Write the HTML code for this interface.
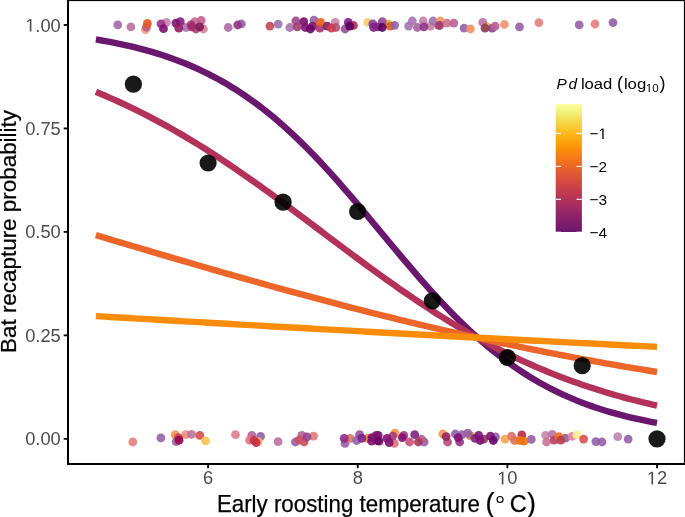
<!DOCTYPE html>
<html><head><meta charset="utf-8"><style>
html,body{margin:0;padding:0;background:#fff;}
body{width:685px;height:517px;overflow:hidden;}
svg{display:block;font-family:"Liberation Sans",sans-serif;will-change:transform;}
</style></head><body>
<svg width="685" height="517" viewBox="0 0 685 517">
<rect x="0" y="0" width="685" height="517" fill="#fff"/>
<circle cx="117.8" cy="24.9" r="4.4" fill="#9e6ba5" fill-opacity="0.90"/>
<circle cx="130.9" cy="26.8" r="4.4" fill="#b672a4" fill-opacity="0.90"/>
<circle cx="145.5" cy="29.7" r="4.4" fill="#ed9b83" fill-opacity="0.90"/>
<circle cx="146.4" cy="27.2" r="4.4" fill="#bd5c7b" fill-opacity="0.90"/>
<circle cx="147.4" cy="23.4" r="4.4" fill="#e55624" fill-opacity="0.90"/>
<circle cx="166.4" cy="22.4" r="4.4" fill="#c684b0" fill-opacity="0.90"/>
<circle cx="161.0" cy="23.9" r="4.4" fill="#953684" fill-opacity="0.90"/>
<circle cx="163.5" cy="28.7" r="4.4" fill="#811270" fill-opacity="0.90"/>
<circle cx="186.1" cy="27.5" r="4.4" fill="#a772b0" fill-opacity="0.90"/>
<circle cx="180.3" cy="21.7" r="4.4" fill="#87217d" fill-opacity="0.90"/>
<circle cx="175.9" cy="23.1" r="4.4" fill="#7d1572" fill-opacity="0.90"/>
<circle cx="178.8" cy="28.2" r="4.4" fill="#95195e" fill-opacity="0.90"/>
<circle cx="194.9" cy="21.7" r="4.4" fill="#c26b95" fill-opacity="0.90"/>
<circle cx="201.2" cy="20.5" r="4.4" fill="#c2608f" fill-opacity="0.90"/>
<circle cx="203.4" cy="29.0" r="4.4" fill="#d48495" fill-opacity="0.90"/>
<circle cx="191.2" cy="24.6" r="4.4" fill="#a73d72" fill-opacity="0.90"/>
<circle cx="196.0" cy="29.0" r="4.4" fill="#b03d69" fill-opacity="0.90"/>
<circle cx="191.7" cy="26.8" r="4.4" fill="#9e2b69" fill-opacity="0.90"/>
<circle cx="199.7" cy="26.8" r="4.4" fill="#84195e" fill-opacity="0.90"/>
<circle cx="228.2" cy="27.5" r="4.4" fill="#b069a2" fill-opacity="0.90"/>
<circle cx="241.3" cy="23.9" r="4.4" fill="#9560a7" fill-opacity="0.90"/>
<circle cx="237.7" cy="25.0" r="4.4" fill="#953684" fill-opacity="0.90"/>
<circle cx="269.9" cy="26.1" r="4.4" fill="#c24557" fill-opacity="0.90"/>
<circle cx="278.2" cy="24.2" r="4.4" fill="#9e72b0" fill-opacity="0.90"/>
<circle cx="289.9" cy="27.5" r="4.4" fill="#a772b0" fill-opacity="0.90"/>
<circle cx="295.8" cy="21.0" r="4.4" fill="#9e488d" fill-opacity="0.90"/>
<circle cx="297.2" cy="26.8" r="4.4" fill="#9e3d72" fill-opacity="0.90"/>
<circle cx="314.0" cy="20.2" r="4.4" fill="#9560a7" fill-opacity="0.90"/>
<circle cx="303.8" cy="21.7" r="4.4" fill="#721072" fill-opacity="0.90"/>
<circle cx="305.3" cy="27.5" r="4.4" fill="#7d1272" fill-opacity="0.90"/>
<circle cx="312.6" cy="26.1" r="4.4" fill="#84126b" fill-opacity="0.90"/>
<circle cx="310.4" cy="29.0" r="4.4" fill="#6b0169" fill-opacity="0.90"/>
<circle cx="319.9" cy="28.2" r="4.4" fill="#a73472" fill-opacity="0.90"/>
<circle cx="320.6" cy="22.4" r="4.4" fill="#e56012" fill-opacity="0.90"/>
<circle cx="335.2" cy="22.4" r="4.4" fill="#cb84a7" fill-opacity="0.90"/>
<circle cx="335.9" cy="27.5" r="4.4" fill="#b94e72" fill-opacity="0.90"/>
<circle cx="327.2" cy="26.1" r="4.4" fill="#841960" fill-opacity="0.90"/>
<circle cx="331.5" cy="28.2" r="4.4" fill="#cb3d4e" fill-opacity="0.90"/>
<circle cx="345.1" cy="29.0" r="4.4" fill="#954e95" fill-opacity="0.90"/>
<circle cx="348.3" cy="22.4" r="4.4" fill="#7d1984" fill-opacity="0.90"/>
<circle cx="353.4" cy="25.3" r="4.4" fill="#b92b4e" fill-opacity="0.90"/>
<circle cx="349.8" cy="26.1" r="4.4" fill="#590160" fill-opacity="0.90"/>
<circle cx="367.7" cy="22.4" r="4.4" fill="#f6cd6b" fill-opacity="0.90"/>
<circle cx="388.2" cy="23.9" r="4.4" fill="#eea73d" fill-opacity="0.90"/>
<circle cx="390.4" cy="26.1" r="4.4" fill="#dd6019" fill-opacity="0.90"/>
<circle cx="372.8" cy="23.9" r="4.4" fill="#843d95" fill-opacity="0.90"/>
<circle cx="382.3" cy="21.7" r="4.4" fill="#8f4895" fill-opacity="0.90"/>
<circle cx="373.6" cy="27.5" r="4.4" fill="#7d2484" fill-opacity="0.90"/>
<circle cx="378.0" cy="26.8" r="4.4" fill="#7d2484" fill-opacity="0.90"/>
<circle cx="382.3" cy="27.5" r="4.4" fill="#590160" fill-opacity="0.90"/>
<circle cx="394.7" cy="25.3" r="4.4" fill="#9560a7" fill-opacity="0.90"/>
<circle cx="408.6" cy="26.1" r="4.4" fill="#a772b0" fill-opacity="0.90"/>
<circle cx="412.3" cy="21.0" r="4.4" fill="#a772b0" fill-opacity="0.90"/>
<circle cx="417.4" cy="27.5" r="4.4" fill="#a7609e" fill-opacity="0.90"/>
<circle cx="423.2" cy="21.0" r="4.4" fill="#c284a7" fill-opacity="0.90"/>
<circle cx="430.5" cy="26.1" r="4.4" fill="#c2849e" fill-opacity="0.90"/>
<circle cx="423.9" cy="26.8" r="4.4" fill="#8f3684" fill-opacity="0.90"/>
<circle cx="433.1" cy="21.0" r="4.4" fill="#9e72b0" fill-opacity="0.90"/>
<circle cx="440.4" cy="21.0" r="4.4" fill="#ee9560" fill-opacity="0.90"/>
<circle cx="438.5" cy="25.3" r="4.4" fill="#b96084" fill-opacity="0.90"/>
<circle cx="439.7" cy="25.3" r="4.4" fill="#9e3d72" fill-opacity="0.90"/>
<circle cx="447.0" cy="23.1" r="4.4" fill="#cb728d" fill-opacity="0.90"/>
<circle cx="453.9" cy="23.1" r="4.4" fill="#b96095" fill-opacity="0.90"/>
<circle cx="464.1" cy="28.2" r="4.4" fill="#9560a7" fill-opacity="0.90"/>
<circle cx="470.4" cy="29.0" r="4.4" fill="#ee8f60" fill-opacity="0.90"/>
<circle cx="486.3" cy="26.3" r="4.4" fill="#eeb93d" fill-opacity="0.90"/>
<circle cx="482.8" cy="22.4" r="4.4" fill="#b972a7" fill-opacity="0.90"/>
<circle cx="492.3" cy="28.2" r="4.4" fill="#953d95" fill-opacity="0.90"/>
<circle cx="495.2" cy="26.1" r="4.4" fill="#b96095" fill-opacity="0.90"/>
<circle cx="485.0" cy="28.2" r="4.4" fill="#8d3d57" fill-opacity="0.90"/>
<circle cx="504.4" cy="24.5" r="4.4" fill="#ee8f72" fill-opacity="0.90"/>
<circle cx="519.5" cy="26.9" r="4.4" fill="#9560a7" fill-opacity="0.90"/>
<circle cx="538.9" cy="22.6" r="4.4" fill="#e17d7d" fill-opacity="0.90"/>
<circle cx="579.2" cy="24.9" r="4.4" fill="#9560a7" fill-opacity="0.90"/>
<circle cx="595.0" cy="24.0" r="4.4" fill="#e17d7d" fill-opacity="0.90"/>
<circle cx="613.0" cy="22.6" r="4.4" fill="#9560a7" fill-opacity="0.90"/>
<circle cx="469.9" cy="435.4" r="4.4" fill="#dd722b" fill-opacity="0.90"/>
<circle cx="442.9" cy="434.0" r="4.4" fill="#ee954e" fill-opacity="0.90"/>
<circle cx="367.6" cy="438.3" r="4.4" fill="#ee842b" fill-opacity="0.90"/>
<circle cx="395.0" cy="433.2" r="4.4" fill="#ee954e" fill-opacity="0.90"/>
<circle cx="132.8" cy="442.0" r="4.4" fill="#e57d7b" fill-opacity="0.90"/>
<circle cx="160.9" cy="437.9" r="4.4" fill="#9560a7" fill-opacity="0.90"/>
<circle cx="175.2" cy="434.7" r="4.4" fill="#ee954e" fill-opacity="0.90"/>
<circle cx="176.2" cy="441.7" r="4.4" fill="#9560a7" fill-opacity="0.90"/>
<circle cx="185.7" cy="434.7" r="4.4" fill="#ee8f72" fill-opacity="0.90"/>
<circle cx="191.5" cy="434.4" r="4.4" fill="#b9729e" fill-opacity="0.90"/>
<circle cx="178.4" cy="437.6" r="4.4" fill="#cb3d4e" fill-opacity="0.90"/>
<circle cx="179.1" cy="440.2" r="4.4" fill="#95074e" fill-opacity="0.90"/>
<circle cx="199.8" cy="435.4" r="4.4" fill="#d44e4e" fill-opacity="0.90"/>
<circle cx="205.5" cy="440.8" r="4.4" fill="#f7c24e" fill-opacity="0.90"/>
<circle cx="235.5" cy="434.7" r="4.4" fill="#dd7d8d" fill-opacity="0.90"/>
<circle cx="251.8" cy="435.4" r="4.4" fill="#b96095" fill-opacity="0.90"/>
<circle cx="260.6" cy="436.4" r="4.4" fill="#9560a7" fill-opacity="0.90"/>
<circle cx="258.2" cy="441.6" r="4.4" fill="#eec24e" fill-opacity="0.90"/>
<circle cx="249.6" cy="440.2" r="4.4" fill="#dd7284" fill-opacity="0.90"/>
<circle cx="256.2" cy="442.7" r="4.4" fill="#cb2b4e" fill-opacity="0.90"/>
<circle cx="254.0" cy="440.5" r="4.4" fill="#c23445" fill-opacity="0.90"/>
<circle cx="278.1" cy="441.7" r="4.4" fill="#b9729e" fill-opacity="0.90"/>
<circle cx="295.4" cy="442.0" r="4.4" fill="#9560a7" fill-opacity="0.90"/>
<circle cx="301.9" cy="435.4" r="4.4" fill="#b96095" fill-opacity="0.90"/>
<circle cx="313.6" cy="436.1" r="4.4" fill="#dd7b7b" fill-opacity="0.90"/>
<circle cx="299.2" cy="440.2" r="4.4" fill="#cb4e60" fill-opacity="0.90"/>
<circle cx="304.1" cy="442.0" r="4.4" fill="#cb4e60" fill-opacity="0.90"/>
<circle cx="307.0" cy="436.9" r="4.4" fill="#95458d" fill-opacity="0.90"/>
<circle cx="345.0" cy="443.4" r="4.4" fill="#9560a7" fill-opacity="0.90"/>
<circle cx="350.1" cy="438.3" r="4.4" fill="#dd7260" fill-opacity="0.90"/>
<circle cx="344.2" cy="438.3" r="4.4" fill="#8f2b84" fill-opacity="0.90"/>
<circle cx="356.6" cy="440.5" r="4.4" fill="#9560a7" fill-opacity="0.90"/>
<circle cx="359.6" cy="434.7" r="4.4" fill="#954e9e" fill-opacity="0.90"/>
<circle cx="361.8" cy="438.3" r="4.4" fill="#7d2484" fill-opacity="0.90"/>
<circle cx="372.0" cy="437.6" r="4.4" fill="#840760" fill-opacity="0.90"/>
<circle cx="371.7" cy="441.2" r="4.4" fill="#7d1272" fill-opacity="0.90"/>
<circle cx="376.4" cy="435.4" r="4.4" fill="#7d1272" fill-opacity="0.90"/>
<circle cx="377.1" cy="440.5" r="4.4" fill="#7d1272" fill-opacity="0.90"/>
<circle cx="378.2" cy="435.4" r="4.4" fill="#7d1272" fill-opacity="0.90"/>
<circle cx="379.0" cy="441.2" r="4.4" fill="#6b0760" fill-opacity="0.90"/>
<circle cx="394.3" cy="443.4" r="4.4" fill="#dd7272" fill-opacity="0.90"/>
<circle cx="392.8" cy="436.1" r="4.4" fill="#a73d72" fill-opacity="0.90"/>
<circle cx="387.0" cy="438.3" r="4.4" fill="#841272" fill-opacity="0.90"/>
<circle cx="389.2" cy="442.7" r="4.4" fill="#7d1272" fill-opacity="0.90"/>
<circle cx="409.6" cy="442.0" r="4.4" fill="#cb4e72" fill-opacity="0.90"/>
<circle cx="403.8" cy="435.4" r="4.4" fill="#a73d84" fill-opacity="0.90"/>
<circle cx="402.3" cy="437.6" r="4.4" fill="#841272" fill-opacity="0.90"/>
<circle cx="424.2" cy="442.0" r="4.4" fill="#9560a7" fill-opacity="0.90"/>
<circle cx="421.3" cy="439.1" r="4.4" fill="#b96084" fill-opacity="0.90"/>
<circle cx="414.7" cy="434.7" r="4.4" fill="#7d2484" fill-opacity="0.90"/>
<circle cx="418.4" cy="442.0" r="4.4" fill="#a73660" fill-opacity="0.90"/>
<circle cx="447.6" cy="442.0" r="4.4" fill="#b9487b" fill-opacity="0.90"/>
<circle cx="446.1" cy="436.6" r="4.4" fill="#952260" fill-opacity="0.90"/>
<circle cx="455.3" cy="434.0" r="4.4" fill="#9560a7" fill-opacity="0.90"/>
<circle cx="461.9" cy="434.7" r="4.4" fill="#9560a7" fill-opacity="0.90"/>
<circle cx="459.7" cy="442.0" r="4.4" fill="#953684" fill-opacity="0.90"/>
<circle cx="458.2" cy="437.6" r="4.4" fill="#7d1272" fill-opacity="0.90"/>
<circle cx="467.7" cy="433.2" r="4.4" fill="#9560a7" fill-opacity="0.90"/>
<circle cx="475.0" cy="438.3" r="4.4" fill="#7d2484" fill-opacity="0.90"/>
<circle cx="483.8" cy="439.1" r="4.4" fill="#953660" fill-opacity="0.90"/>
<circle cx="478.7" cy="435.4" r="4.4" fill="#7d1272" fill-opacity="0.90"/>
<circle cx="480.1" cy="440.5" r="4.4" fill="#7d1272" fill-opacity="0.90"/>
<circle cx="495.5" cy="436.9" r="4.4" fill="#9560a7" fill-opacity="0.90"/>
<circle cx="490.4" cy="436.1" r="4.4" fill="#7d1272" fill-opacity="0.90"/>
<circle cx="493.3" cy="440.5" r="4.4" fill="#6b0169" fill-opacity="0.90"/>
<circle cx="505.0" cy="439.1" r="4.4" fill="#f7a74e" fill-opacity="0.90"/>
<circle cx="511.5" cy="436.1" r="4.4" fill="#dd7272" fill-opacity="0.90"/>
<circle cx="514.5" cy="440.5" r="4.4" fill="#dd7260" fill-opacity="0.90"/>
<circle cx="531.3" cy="439.4" r="4.4" fill="#9560a7" fill-opacity="0.90"/>
<circle cx="521.8" cy="434.9" r="4.4" fill="#b92b4e" fill-opacity="0.90"/>
<circle cx="519.6" cy="440.5" r="4.4" fill="#ee7207" fill-opacity="0.90"/>
<circle cx="523.9" cy="441.2" r="4.4" fill="#ee7207" fill-opacity="0.90"/>
<circle cx="545.6" cy="435.3" r="4.4" fill="#cb84a7" fill-opacity="0.90"/>
<circle cx="546.6" cy="442.0" r="4.4" fill="#cb7295" fill-opacity="0.90"/>
<circle cx="552.3" cy="434.4" r="4.4" fill="#b972a7" fill-opacity="0.90"/>
<circle cx="554.2" cy="440.1" r="4.4" fill="#b93d60" fill-opacity="0.90"/>
<circle cx="565.5" cy="438.2" r="4.4" fill="#9560a7" fill-opacity="0.90"/>
<circle cx="558.9" cy="436.7" r="4.4" fill="#ee7219" fill-opacity="0.90"/>
<circle cx="560.8" cy="440.1" r="4.4" fill="#b93d4e" fill-opacity="0.90"/>
<circle cx="572.2" cy="436.3" r="4.4" fill="#dd8495" fill-opacity="0.90"/>
<circle cx="576.9" cy="434.8" r="4.4" fill="#f7ee95" fill-opacity="0.90"/>
<circle cx="583.6" cy="439.1" r="4.4" fill="#dd4e4e" fill-opacity="0.90"/>
<circle cx="595.9" cy="441.6" r="4.4" fill="#9560a7" fill-opacity="0.90"/>
<circle cx="602.0" cy="442.0" r="4.4" fill="#9560a7" fill-opacity="0.90"/>
<circle cx="617.7" cy="436.7" r="4.4" fill="#c284b0" fill-opacity="0.90"/>
<circle cx="628.2" cy="439.1" r="4.4" fill="#9560a7" fill-opacity="0.90"/>
<path d="M95.87,39.45 L100.54,40.23 L105.22,41.05 L109.90,41.92 L114.57,42.82 L119.25,43.78 L123.92,44.78 L128.60,45.83 L133.28,46.94 L137.95,48.10 L142.63,49.32 L147.31,50.60 L151.98,51.94 L156.66,53.35 L161.33,54.82 L166.01,56.36 L170.69,57.98 L175.36,59.67 L180.04,61.45 L184.72,63.30 L189.39,65.24 L194.07,67.26 L198.75,69.37 L203.42,71.58 L208.10,73.88 L212.77,76.28 L217.45,78.78 L222.13,81.38 L226.80,84.08 L231.48,86.90 L236.15,89.82 L240.83,92.85 L245.51,96.00 L250.18,99.26 L254.86,102.64 L259.54,106.14 L264.21,109.75 L268.89,113.48 L273.56,117.33 L278.24,121.29 L282.92,125.38 L287.59,129.58 L292.27,133.89 L296.95,138.32 L301.62,142.85 L306.30,147.50 L310.97,152.25 L315.65,157.09 L320.33,162.04 L325.00,167.08 L329.68,172.20 L334.36,177.41 L339.03,182.69 L343.71,188.04 L348.38,193.45 L353.06,198.91 L357.74,204.43 L362.41,209.98 L367.09,215.57 L371.77,221.18 L376.44,226.80 L381.12,232.43 L385.79,238.07 L390.47,243.69 L395.15,249.30 L399.82,254.88 L404.50,260.42 L409.18,265.93 L413.85,271.38 L418.53,276.78 L423.20,282.12 L427.88,287.39 L432.56,292.58 L437.23,297.68 L441.91,302.70 L446.59,307.63 L451.26,312.46 L455.94,317.19 L460.61,321.81 L465.29,326.33 L469.97,330.74 L474.64,335.03 L479.32,339.20 L484.00,343.27 L488.67,347.21 L493.35,351.03 L498.02,354.74 L502.70,358.33 L507.38,361.80 L512.05,365.16 L516.73,368.40 L521.41,371.53 L526.08,374.54 L530.76,377.44 L535.43,380.23 L540.11,382.92 L544.79,385.50 L549.46,387.98 L554.14,390.36 L558.82,392.64 L563.49,394.83 L568.17,396.92 L572.85,398.93 L577.52,400.85 L582.20,402.69 L586.87,404.45 L591.55,406.12 L596.23,407.73 L600.90,409.26 L605.58,410.72 L610.25,412.11 L614.93,413.44 L619.61,414.71 L624.28,415.92 L628.96,417.07 L633.64,418.16 L638.31,419.21 L642.99,420.20 L647.66,421.14 L652.34,422.04 L657.02,422.90" fill="none" stroke="#6a176e" stroke-width="6.4" stroke-linecap="butt" stroke-linejoin="round"/>
<path d="M95.87,91.90 L100.54,93.83 L105.22,95.81 L109.90,97.83 L114.57,99.90 L119.25,102.01 L123.92,104.16 L128.60,106.37 L133.28,108.61 L137.95,110.91 L142.63,113.25 L147.31,115.64 L151.98,118.07 L156.66,120.55 L161.33,123.07 L166.01,125.64 L170.69,128.26 L175.36,130.92 L180.04,133.62 L184.72,136.37 L189.39,139.16 L194.07,142.00 L198.75,144.88 L203.42,147.80 L208.10,150.76 L212.77,153.76 L217.45,156.79 L222.13,159.87 L226.80,162.98 L231.48,166.13 L236.15,169.31 L240.83,172.53 L245.51,175.78 L250.18,179.05 L254.86,182.36 L259.54,185.69 L264.21,189.05 L268.89,192.43 L273.56,195.83 L278.24,199.26 L282.92,202.70 L287.59,206.16 L292.27,209.63 L296.95,213.12 L301.62,216.62 L306.30,220.12 L310.97,223.64 L315.65,227.15 L320.33,230.67 L325.00,234.20 L329.68,237.71 L334.36,241.23 L339.03,244.74 L343.71,248.25 L348.38,251.74 L353.06,255.22 L357.74,258.69 L362.41,262.15 L367.09,265.58 L371.77,269.00 L376.44,272.40 L381.12,275.77 L385.79,279.12 L390.47,282.45 L395.15,285.74 L399.82,289.01 L404.50,292.25 L409.18,295.46 L413.85,298.63 L418.53,301.76 L423.20,304.87 L427.88,307.93 L432.56,310.96 L437.23,313.94 L441.91,316.89 L446.59,319.80 L451.26,322.66 L455.94,325.49 L460.61,328.27 L465.29,331.00 L469.97,333.69 L474.64,336.34 L479.32,338.94 L484.00,341.50 L488.67,344.01 L493.35,346.47 L498.02,348.89 L502.70,351.26 L507.38,353.59 L512.05,355.87 L516.73,358.10 L521.41,360.29 L526.08,362.44 L530.76,364.53 L535.43,366.58 L540.11,368.59 L544.79,370.55 L549.46,372.47 L554.14,374.35 L558.82,376.18 L563.49,377.97 L568.17,379.71 L572.85,381.41 L577.52,383.08 L582.20,384.70 L586.87,386.28 L591.55,387.82 L596.23,389.32 L600.90,390.79 L605.58,392.21 L610.25,393.60 L614.93,394.96 L619.61,396.27 L624.28,397.55 L628.96,398.80 L633.64,400.02 L638.31,401.20 L642.99,402.34 L647.66,403.46 L652.34,404.55 L657.02,405.60" fill="none" stroke="#b3325a" stroke-width="6.4" stroke-linecap="butt" stroke-linejoin="round"/>
<path d="M95.87,235.15 L100.54,236.55 L105.22,237.94 L109.90,239.33 L114.57,240.72 L119.25,242.11 L123.92,243.50 L128.60,244.89 L133.28,246.28 L137.95,247.66 L142.63,249.05 L147.31,250.43 L151.98,251.81 L156.66,253.19 L161.33,254.57 L166.01,255.94 L170.69,257.32 L175.36,258.69 L180.04,260.06 L184.72,261.42 L189.39,262.79 L194.07,264.15 L198.75,265.50 L203.42,266.86 L208.10,268.21 L212.77,269.56 L217.45,270.90 L222.13,272.25 L226.80,273.59 L231.48,274.92 L236.15,276.25 L240.83,277.58 L245.51,278.90 L250.18,280.22 L254.86,281.54 L259.54,282.85 L264.21,284.15 L268.89,285.46 L273.56,286.75 L278.24,288.05 L282.92,289.33 L287.59,290.62 L292.27,291.90 L296.95,293.17 L301.62,294.44 L306.30,295.70 L310.97,296.96 L315.65,298.21 L320.33,299.46 L325.00,300.70 L329.68,301.94 L334.36,303.17 L339.03,304.39 L343.71,305.61 L348.38,306.83 L353.06,308.03 L357.74,309.24 L362.41,310.43 L367.09,311.62 L371.77,312.80 L376.44,313.98 L381.12,315.15 L385.79,316.32 L390.47,317.47 L395.15,318.63 L399.82,319.77 L404.50,320.91 L409.18,322.04 L413.85,323.17 L418.53,324.29 L423.20,325.40 L427.88,326.50 L432.56,327.60 L437.23,328.69 L441.91,329.78 L446.59,330.86 L451.26,331.93 L455.94,332.99 L460.61,334.05 L465.29,335.10 L469.97,336.14 L474.64,337.18 L479.32,338.21 L484.00,339.23 L488.67,340.25 L493.35,341.25 L498.02,342.25 L502.70,343.25 L507.38,344.23 L512.05,345.21 L516.73,346.18 L521.41,347.15 L526.08,348.11 L530.76,349.06 L535.43,350.00 L540.11,350.93 L544.79,351.86 L549.46,352.78 L554.14,353.70 L558.82,354.61 L563.49,355.51 L568.17,356.40 L572.85,357.28 L577.52,358.16 L582.20,359.03 L586.87,359.90 L591.55,360.75 L596.23,361.60 L600.90,362.44 L605.58,363.28 L610.25,364.11 L614.93,364.93 L619.61,365.74 L624.28,366.55 L628.96,367.35 L633.64,368.14 L638.31,368.93 L642.99,369.71 L647.66,370.48 L652.34,371.24 L657.02,372.00" fill="none" stroke="#eb6628" stroke-width="6.4" stroke-linecap="butt" stroke-linejoin="round"/>
<path d="M95.87,316.10 L100.54,316.38 L105.22,316.66 L109.90,316.94 L114.57,317.21 L119.25,317.49 L123.92,317.77 L128.60,318.05 L133.28,318.32 L137.95,318.60 L142.63,318.88 L147.31,319.15 L151.98,319.43 L156.66,319.70 L161.33,319.98 L166.01,320.25 L170.69,320.53 L175.36,320.80 L180.04,321.07 L184.72,321.35 L189.39,321.62 L194.07,321.89 L198.75,322.16 L203.42,322.43 L208.10,322.70 L212.77,322.97 L217.45,323.24 L222.13,323.51 L226.80,323.78 L231.48,324.05 L236.15,324.32 L240.83,324.59 L245.51,324.86 L250.18,325.12 L254.86,325.39 L259.54,325.66 L264.21,325.92 L268.89,326.19 L273.56,326.46 L278.24,326.72 L282.92,326.99 L287.59,327.25 L292.27,327.51 L296.95,327.78 L301.62,328.04 L306.30,328.30 L310.97,328.56 L315.65,328.83 L320.33,329.09 L325.00,329.35 L329.68,329.61 L334.36,329.87 L339.03,330.13 L343.71,330.39 L348.38,330.65 L353.06,330.91 L357.74,331.17 L362.41,331.42 L367.09,331.68 L371.77,331.94 L376.44,332.19 L381.12,332.45 L385.79,332.71 L390.47,332.96 L395.15,333.22 L399.82,333.47 L404.50,333.73 L409.18,333.98 L413.85,334.23 L418.53,334.49 L423.20,334.74 L427.88,334.99 L432.56,335.24 L437.23,335.49 L441.91,335.75 L446.59,336.00 L451.26,336.25 L455.94,336.50 L460.61,336.75 L465.29,336.99 L469.97,337.24 L474.64,337.49 L479.32,337.74 L484.00,337.99 L488.67,338.23 L493.35,338.48 L498.02,338.73 L502.70,338.97 L507.38,339.22 L512.05,339.46 L516.73,339.71 L521.41,339.95 L526.08,340.19 L530.76,340.44 L535.43,340.68 L540.11,340.92 L544.79,341.16 L549.46,341.41 L554.14,341.65 L558.82,341.89 L563.49,342.13 L568.17,342.37 L572.85,342.61 L577.52,342.85 L582.20,343.09 L586.87,343.32 L591.55,343.56 L596.23,343.80 L600.90,344.04 L605.58,344.27 L610.25,344.51 L614.93,344.74 L619.61,344.98 L624.28,345.21 L628.96,345.45 L633.64,345.68 L638.31,345.92 L642.99,346.15 L647.66,346.38 L652.34,346.62 L657.02,346.85" fill="none" stroke="#f98c0a" stroke-width="6.4" stroke-linecap="butt" stroke-linejoin="round"/>
<circle cx="133.4" cy="84.2" r="8.6" fill="#000" fill-opacity="0.9"/>
<circle cx="208.1" cy="163.0" r="8.6" fill="#000" fill-opacity="0.9"/>
<circle cx="283.1" cy="202.2" r="8.6" fill="#000" fill-opacity="0.9"/>
<circle cx="357.6" cy="211.5" r="8.6" fill="#000" fill-opacity="0.9"/>
<circle cx="432.4" cy="300.8" r="8.6" fill="#000" fill-opacity="0.9"/>
<circle cx="507.4" cy="357.5" r="8.6" fill="#000" fill-opacity="0.9"/>
<circle cx="582.2" cy="365.7" r="8.6" fill="#000" fill-opacity="0.9"/>
<circle cx="657.0" cy="438.8" r="8.6" fill="#000" fill-opacity="0.9"/>
<rect x="67" y="0" width="618" height="1.1" fill="#000"/>
<rect x="683.9" y="0" width="1.1" height="465" fill="#000"/>
<rect x="67" y="0" width="2" height="465" fill="#000"/>
<rect x="67" y="463" width="618" height="2" fill="#000"/>
<line x1="63.7" y1="24.96" x2="68" y2="24.96" stroke="#000" stroke-width="1.8"/>
<g transform="translate(25.183,31.560) scale(1.0000,1)" fill="#4d4d4d"><path transform="translate(0.000,0) scale(0.008936,-0.008936)" d="M515 0V1237L197 1010V1180L530 1409H696V0Z"/><text x="10.178" y="0" font-size="18.30">.</text><text x="15.262" y="0" font-size="18.30">0</text><text x="25.440" y="0" font-size="18.30">0</text></g>
<line x1="63.7" y1="128.43" x2="68" y2="128.43" stroke="#000" stroke-width="1.8"/>
<g transform="translate(25.183,135.027) scale(1.0000,1)" fill="#4d4d4d"><text x="0.000" y="0" font-size="18.30">0</text><text x="10.178" y="0" font-size="18.30">.</text><text x="15.262" y="0" font-size="18.30">7</text><text x="25.440" y="0" font-size="18.30">5</text></g>
<line x1="63.7" y1="231.89" x2="68" y2="231.89" stroke="#000" stroke-width="1.8"/>
<g transform="translate(25.183,238.495) scale(1.0000,1)" fill="#4d4d4d"><text x="0.000" y="0" font-size="18.30">0</text><text x="10.178" y="0" font-size="18.30">.</text><text x="15.262" y="0" font-size="18.30">5</text><text x="25.440" y="0" font-size="18.30">0</text></g>
<line x1="63.7" y1="335.36" x2="68" y2="335.36" stroke="#000" stroke-width="1.8"/>
<g transform="translate(25.183,341.962) scale(1.0000,1)" fill="#4d4d4d"><text x="0.000" y="0" font-size="18.30">0</text><text x="10.178" y="0" font-size="18.30">.</text><text x="15.262" y="0" font-size="18.30">2</text><text x="25.440" y="0" font-size="18.30">5</text></g>
<line x1="63.7" y1="438.83" x2="68" y2="438.83" stroke="#000" stroke-width="1.8"/>
<g transform="translate(25.183,445.430) scale(1.0000,1)" fill="#4d4d4d"><text x="0.000" y="0" font-size="18.30">0</text><text x="10.178" y="0" font-size="18.30">.</text><text x="15.262" y="0" font-size="18.30">0</text><text x="25.440" y="0" font-size="18.30">0</text></g>
<line x1="208.10" y1="464" x2="208.10" y2="468.2" stroke="#000" stroke-width="1.8"/>
<g transform="translate(203.009,484.400) scale(1.0000,1)" fill="#4d4d4d"><text x="0.000" y="0" font-size="18.30">6</text></g>
<line x1="357.74" y1="464" x2="357.74" y2="468.2" stroke="#000" stroke-width="1.8"/>
<g transform="translate(352.649,484.400) scale(1.0000,1)" fill="#4d4d4d"><text x="0.000" y="0" font-size="18.30">8</text></g>
<line x1="507.38" y1="464" x2="507.38" y2="468.2" stroke="#000" stroke-width="1.8"/>
<g transform="translate(497.200,484.400) scale(1.0000,1)" fill="#4d4d4d"><path transform="translate(0.000,0) scale(0.008936,-0.008936)" d="M515 0V1237L197 1010V1180L530 1409H696V0Z"/><text x="10.178" y="0" font-size="18.30">0</text></g>
<line x1="657.02" y1="464" x2="657.02" y2="468.2" stroke="#000" stroke-width="1.8"/>
<g transform="translate(646.840,484.400) scale(1.0000,1)" fill="#4d4d4d"><path transform="translate(0.000,0) scale(0.008936,-0.008936)" d="M515 0V1237L197 1010V1180L530 1409H696V0Z"/><text x="10.178" y="0" font-size="18.30">2</text></g>
<text x="216.90" y="511.5" font-size="23.4" fill="#000" stroke="#000" stroke-width="0.25" textLength="263.00" lengthAdjust="spacingAndGlyphs">Early roosting temperature</text>
<text x="485.5" y="511.5" font-size="27" fill="#000" stroke="#000" stroke-width="0.25">(</text>
<circle cx="500.05" cy="499.45" r="3.0" fill="none" stroke="#000" stroke-width="1.15"/>
<text x="509.80" y="511.5" font-size="23.4" fill="#000" stroke="#000" stroke-width="0.25">C</text>
<text x="527.0" y="511.5" font-size="27" fill="#000" stroke="#000" stroke-width="0.25">)</text>
<text transform="translate(16.2,353.00) rotate(-90)" x="0" y="0" font-size="22.6" fill="#000" stroke="#000" stroke-width="0.25" textLength="243.00" lengthAdjust="spacingAndGlyphs">Bat recapture probability</text>
<defs><linearGradient id="cb" x1="0" y1="1" x2="0" y2="0">
<stop offset="0.000" stop-color="#6a176e"/>
<stop offset="0.050" stop-color="#781c6d"/>
<stop offset="0.100" stop-color="#87216b"/>
<stop offset="0.150" stop-color="#952667"/>
<stop offset="0.200" stop-color="#a32c61"/>
<stop offset="0.250" stop-color="#b1325a"/>
<stop offset="0.300" stop-color="#bf3952"/>
<stop offset="0.350" stop-color="#cb4149"/>
<stop offset="0.400" stop-color="#d74b3f"/>
<stop offset="0.450" stop-color="#e15635"/>
<stop offset="0.500" stop-color="#ea632a"/>
<stop offset="0.550" stop-color="#f1711f"/>
<stop offset="0.600" stop-color="#f68013"/>
<stop offset="0.650" stop-color="#fa9008"/>
<stop offset="0.700" stop-color="#fca108"/>
<stop offset="0.750" stop-color="#fcb216"/>
<stop offset="0.800" stop-color="#fac42a"/>
<stop offset="0.850" stop-color="#f6d543"/>
<stop offset="0.900" stop-color="#f2e661"/>
<stop offset="0.950" stop-color="#f3f586"/>
<stop offset="1.000" stop-color="#fcffa4"/>
</linearGradient></defs>
<rect x="555.7" y="104.0" width="26.2" height="128.0" fill="url(#cb)"/>
<line x1="555.7" y1="133.45" x2="561" y2="133.45" stroke="#fff" stroke-width="1.1"/>
<line x1="576.5" y1="133.45" x2="581.9" y2="133.45" stroke="#fff" stroke-width="1.1"/>
<g transform="translate(589.400,139.050) scale(1.0000,1)" fill="#000"><text x="0.000" y="0" font-size="15.40">−</text><path transform="translate(8.993,0) scale(0.007520,-0.007520)" d="M515 0V1237L197 1010V1180L530 1409H696V0Z"/></g>
<line x1="555.7" y1="166.38" x2="561" y2="166.38" stroke="#fff" stroke-width="1.1"/>
<line x1="576.5" y1="166.38" x2="581.9" y2="166.38" stroke="#fff" stroke-width="1.1"/>
<g transform="translate(589.400,171.980) scale(1.0000,1)" fill="#000"><text x="0.000" y="0" font-size="15.40">−</text><text x="8.993" y="0" font-size="15.40">2</text></g>
<line x1="555.7" y1="199.31" x2="561" y2="199.31" stroke="#fff" stroke-width="1.1"/>
<line x1="576.5" y1="199.31" x2="581.9" y2="199.31" stroke="#fff" stroke-width="1.1"/>
<g transform="translate(589.400,204.910) scale(1.0000,1)" fill="#000"><text x="0.000" y="0" font-size="15.40">−</text><text x="8.993" y="0" font-size="15.40">3</text></g>
<line x1="555.7" y1="232.24" x2="561" y2="232.24" stroke="#fff" stroke-width="1.1"/>
<line x1="576.5" y1="232.24" x2="581.9" y2="232.24" stroke="#fff" stroke-width="1.1"/>
<g transform="translate(589.400,237.840) scale(1.0000,1)" fill="#000"><text x="0.000" y="0" font-size="15.40">−</text><text x="8.993" y="0" font-size="15.40">4</text></g>
<text x="556.4" y="88.8" font-size="15.4" font-style="italic" fill="#000">P</text>
<text x="568.5" y="88.8" font-size="15.4" font-style="italic" fill="#000">d</text>
<text x="580.9" y="88.8" font-size="15.4" fill="#000" textLength="31.50" lengthAdjust="spacingAndGlyphs">load</text>
<text x="616.9" y="88.8" font-size="18" fill="#000">(</text>
<text x="623.9" y="88.8" font-size="15.4" fill="#000" textLength="22.4" lengthAdjust="spacingAndGlyphs">log</text>
<g transform="translate(645.800,92.000) scale(1.0000,1)" fill="#000"><path transform="translate(0.000,0) scale(0.005664,-0.005664)" d="M515 0V1237L197 1010V1180L530 1409H696V0Z"/><text x="6.451" y="0" font-size="11.60">0</text></g>
<text x="659.6" y="88.8" font-size="18" fill="#000">)</text>
</svg>
</body></html>
